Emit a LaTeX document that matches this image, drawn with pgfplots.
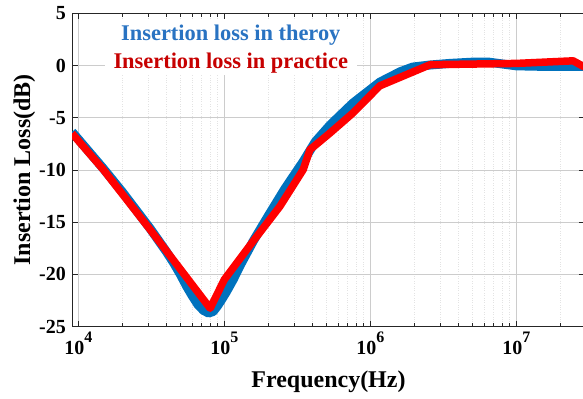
\documentclass[border=0pt]{standalone}
\usepackage{pgfplots}
\pgfplotsset{compat=1.18}
\usepackage{fontspec}
\setmainfont{Liberation Serif}

\definecolor{thblue}{rgb}{0,0.447,0.741}
\definecolor{prred}{rgb}{1,0,0}
\definecolor{legblue}{rgb}{0.16,0.45,0.76}
\definecolor{legred}{rgb}{0.78,0,0}
\definecolor{axgray}{rgb}{0.15,0.15,0.15}

\newcommand{\tenpow}[1]{10\raisebox{12bp}{\fontsize{16bp}{16bp}\selectfont #1}}

\begin{document}
\begin{tikzpicture}
\begin{semilogxaxis}[
  at={(0,0)}, anchor=south west,
  scale only axis, width=512.9bp, height=313.3bp,
  xmin=9054, xmax=2.95e7, ymin=-25, ymax=5,
  xtick={1e4,1e5,1e6,1e7},
  xticklabels={\tenpow{4},\tenpow{5},\tenpow{6},\tenpow{7}},
  minor xtick={2e4,3e4,4e4,5e4,6e4,7e4,8e4,9e4,2e5,3e5,4e5,5e5,6e5,7e5,8e5,9e5,2e6,3e6,4e6,5e6,6e6,7e6,8e6,9e6,2e7},
  ytick={-25,-20,-15,-10,-5,0,5},
  yticklabels={-25,-20,-15,-10,-5,0,5},
  tick align=inside, xtick pos=both, ytick pos=both,
  major tick length=5.5bp, minor tick length=3.5bp,
  tick style={axgray, line width=0.5bp},
  axis line style={axgray, line width=0.6bp},
  xmajorgrids=true, xminorgrids=true, ymajorgrids=true,
  major grid style={black!20, line width=0.7bp},
  minor grid style={black!11, dotted, line width=0.5bp},
  xticklabel style={font=\fontsize{20bp}{20bp}\selectfont\bfseries, anchor=base, inner sep=0pt, yshift=-27.5bp},
  yticklabel style={font=\fontsize{20bp}{20bp}\selectfont\bfseries, anchor=east, inner sep=0pt, xshift=-6bp},
  xlabel={Frequency(Hz)},
  ylabel={Insertion Loss(dB)},
  xlabel style={font=\fontsize{24bp}{24bp}\selectfont\bfseries, at={(axis description cs:0.5,-0.1957)}, anchor=base, inner sep=0pt},
  ylabel style={font=\fontsize{24bp}{24bp}\selectfont\bfseries, at={(axis description cs:-0.0819,0.5)}, anchor=base, inner sep=0pt},
]
\addplot[thblue, line width=9bp, line join=round, no marks] coordinates {
(9054,-6.35) (1.48e4,-9.85) (2.0e4,-12.1) (3.1e4,-15.6) (4.0e4,-17.8)
(4.5e4,-18.9) (5.0e4,-20.0) (5.5e4,-21.1) (6.0e4,-22.0) (6.6e4,-22.9)
(7.2e4,-23.45) (7.8e4,-23.7) (8.4e4,-23.55) (9.0e4,-23.0) (9.6e4,-22.4)
(1.03e5,-21.7) (1.15e5,-20.5) (1.3e5,-19.0) (1.58e5,-16.8) (2.0e5,-14.4)
(2.6e5,-11.8) (3.47e5,-9.2) (4.2e5,-7.3) (5.3e5,-5.7) (7.6e5,-3.6)
(1.16e6,-1.6) (1.6e6,-0.6) (1.95e6,-0.15) (2.57e6,0.05) (3.5e6,0.2)
(5.0e6,0.32) (6.5e6,0.32) (8e6,0.15) (1e7,-0.03) (1.5e7,-0.08) (2.95e7,-0.08)
};
\addplot[prred, line width=7.5bp, line join=round, no marks] coordinates {
(9054,-6.5) (1.48e4,-9.95) (3.1e4,-15.7) (8.0e4,-23.25) (1.0e5,-20.5)
(1.58e5,-16.8) (2.4e5,-13.5) (3.47e5,-9.97) (3.86e5,-8.06) (5.3e5,-6.46)
(7.6e5,-4.55) (1.16e6,-1.95) (2.57e6,0.08) (1e7,0.2) (2.45e7,0.45)
(2.8e7,0.0) (2.95e7,-0.15)
};
\fill[white] (axis description cs:0.0643,0.8031) rectangle (axis description cs:0.5557,0.9818);
\node[anchor=base, inner sep=0pt, text=legblue, font=\fontsize{22.4bp}{22.4bp}\selectfont\bfseries] at (axis description cs:0.3096,0.9125) {Insertion loss in theroy};
\node[anchor=base, inner sep=0pt, text=legred, font=\fontsize{22.4bp}{22.4bp}\selectfont\bfseries] at (axis description cs:0.3096,0.8245) {Insertion loss in practice};
\end{semilogxaxis}
\pgfresetboundingbox
\path[use as bounding box] (-72bp,-72.4bp) rectangle (511bp,326.6bp);
\end{tikzpicture}
\end{document}
